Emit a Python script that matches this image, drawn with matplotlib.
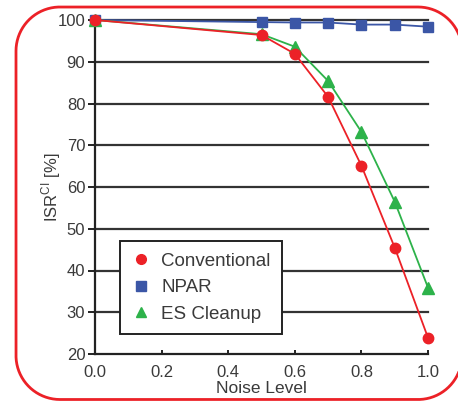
import matplotlib
matplotlib.use("Agg")
import numpy as np
import matplotlib.pyplot as plt
from matplotlib.lines import Line2D

plt.rcParams['font.family'] = ['Liberation Sans', 'DejaVu Sans']

noise = [0.0, 0.5, 0.6, 0.7, 0.8, 0.9, 1.0]
conventional = [100, 96.4, 91.9, 81.6, 65.1, 45.5, 23.9]
npar = [100, 99.5, 99.4, 99.4, 98.9, 98.9, 98.4]
es_cleanup = [100, 96.6, 93.6, 85.4, 73.2, 56.5, 35.9]
xticks = [0.0, 0.2, 0.4, 0.6, 0.8, 1.0]
yticks = [20, 30, 40, 50, 60, 70, 80, 90, 100]

RED = '#ec2127'
BLUE = '#3b56a6'
GREEN = '#2db24a'
TXT = '#3a3a3a'

fig = plt.figure(figsize=(4.58, 4.01), dpi=100)
W, H = 458, 401

# rounded red frame (open on the right side, which lies outside the canvas)
left, right, bottom, top, r = 16.0, 462.0, 1.5, 394.0, 44.0
def arc(cx, cy, a0, a1, n=40):
    t = np.radians(np.linspace(a0, a1, n))
    return list(cx + r * np.cos(t)), list(cy + r * np.sin(t))
xs, ys = [], []
for cx, cy, a0, a1 in [(right - r, top - r, 0, 90), (left + r, top - r, 90, 180),
                       (left + r, bottom + r, 180, 270), (right - r, bottom + r, 270, 360)]:
    ax_, ay_ = arc(cx, cy, a0, a1)
    xs += ax_
    ys += ay_
frame = Line2D(np.array(xs) / W, np.array(ys) / H, transform=fig.transFigure,
               color=RED, lw=2.0, solid_capstyle='butt')
fig.lines.append(frame)

ax = fig.add_axes([95 / W, 1 - 354 / H, (428 - 95) / W, (354 - 20) / H])

for y in yticks[1:]:
    ax.axhline(y, color='#333333', lw=1.6, zorder=1)

ax.plot(noise, npar, color=BLUE, lw=1.3, marker='s', ms=6.5, zorder=3, label='NPAR')
ax.plot(noise, es_cleanup, color=GREEN, lw=1.3, marker='^', ms=8, zorder=4, label='ES Cleanup')
ax.plot(noise, conventional, color=RED, lw=1.3, marker='o', ms=7.5, zorder=5, label='Conventional')

ax.set_xlim(0, 1.0)
ax.set_ylim(20, 100)
ax.set_xticks(xticks)
ax.set_xticklabels([f"{v:.1f}" for v in xticks])
ax.set_yticks(yticks)

for s in ['top', 'right']:
    ax.spines[s].set_visible(False)
for s in ['left', 'bottom']:
    ax.spines[s].set_color('#222222')
    ax.spines[s].set_linewidth(1.6)
for ln in ax.lines:
    ln.set_clip_on(False)

ax.tick_params(axis='y', direction='out', length=5, width=1.4, color='#222222',
               labelsize=12, labelcolor=TXT, pad=2)
ax.tick_params(axis='x', direction='in', length=3, width=1.4, color='#222222',
               labelsize=12, labelcolor=TXT, pad=8)

ax.set_xlabel('Noise Level', fontsize=12.5, color=TXT, labelpad=0.5)
ax.set_ylabel(r'ISR$^{\mathregular{CI}}$ [%]', fontsize=12, color=TXT, labelpad=-4)

handles, labels = ax.get_legend_handles_labels()
order = [2, 0, 1]
leg_handles = []
for i in order:
    h = handles[i]
    leg_handles.append(Line2D([], [], linestyle='none', marker=h.get_marker(),
                              color=h.get_color(), ms=7))
leg = ax.legend(leg_handles, [labels[i] for i in order], loc='lower left',
                bbox_to_anchor=(0.075, 0.06), fontsize=13.5, frameon=True,
                fancybox=False, edgecolor='#222222', framealpha=1,
                handlelength=1.0, handletextpad=0.6, borderpad=0.6,
                labelspacing=0.5, labelcolor=TXT, borderaxespad=0)
leg.get_frame().set_linewidth(1.4)
leg.set_zorder(10)

fig.savefig('out.png', dpi=100)
